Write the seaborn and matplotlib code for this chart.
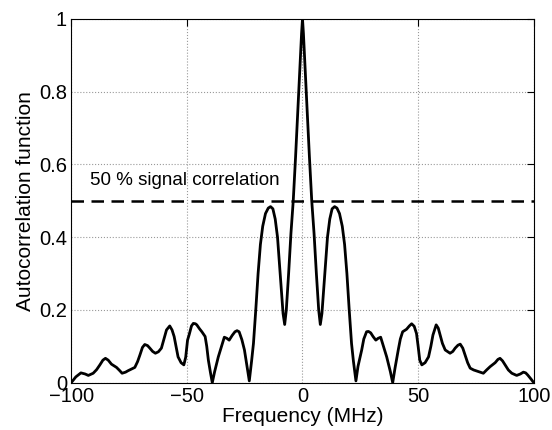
import numpy as np
import pandas as pd
import seaborn as sns
import matplotlib

matplotlib.use("Agg")
import matplotlib.pyplot as plt

# Frequency offset (MHz) and normalised autocorrelation
freq = [
    -100.0, -98.0, -95.8, -94.0, -92.6, -90.5, -89.0, -87.6, -86.3, -85.2,
    -84.0, -82.6, -80.4, -79.0, -78.0, -76.5, -75.4, -72.5, -71.3, -70.3,
    -69.2, -68.2, -67.0, -66.0, -64.8, -63.6, -62.3, -61.0, -59.8, -58.8,
    -57.4, -56.4, -55.5, -54.6, -53.8, -52.5, -51.3, -50.5, -49.7, -49.0,
    -48.0, -47.2, -46.3, -45.7, -44.5, -43.5, -42.1, -41.4, -40.7, -39.8,
    -39.0, -38.0, -36.4, -35.0, -33.8, -32.7, -31.7, -30.4, -29.2, -28.3,
    -27.4, -26.2, -25.1, -24.0, -23.0, -22.0, -21.2, -20.2, -19.2, -18.2,
    -17.2, -16.0, -14.8, -13.8, -12.8, -11.8, -10.8, -10.0, -9.2, -8.4,
    -7.7, -7.0, -6.0, -5.0, -4.0, -3.0, -2.0, -1.0, -0.4, 0.0,
    0.4, 1.0, 2.0, 3.0, 4.0, 5.0, 6.0, 7.0, 7.7, 8.4,
    9.2, 10.0, 10.8, 11.8, 12.8, 13.9, 14.9, 16.0, 17.2, 18.2,
    19.2, 20.2, 21.2, 22.0, 23.1, 24.0, 25.6, 26.5, 27.7, 28.5,
    29.5, 30.5, 31.7, 32.7, 33.8, 35.0, 36.4, 38.0, 39.0, 40.0,
    41.4, 42.3, 43.3, 45.0, 46.2, 47.2, 48.3, 49.3, 50.0, 50.7,
    51.6, 53.0, 54.5, 55.5, 56.4, 57.8, 58.7, 59.5, 60.5, 61.7,
    63.8, 65.0, 66.0, 67.2, 68.2, 69.3, 70.3, 71.4, 72.5, 74.0,
    75.4, 76.8, 78.2, 79.6, 81.1, 83.3, 84.5, 85.4, 86.5, 87.6,
    89.0, 90.5, 92.6, 94.2, 95.5, 96.5, 97.4, 98.8, 100.0,
]
acf = [
    0.0, 0.016, 0.027, 0.024, 0.020, 0.026, 0.036, 0.049, 0.062, 0.067,
    0.062, 0.051, 0.042, 0.033, 0.026, 0.029, 0.033, 0.042, 0.058, 0.076,
    0.097, 0.105, 0.102, 0.095, 0.086, 0.081, 0.085, 0.095, 0.122, 0.145,
    0.156, 0.145, 0.127, 0.098, 0.071, 0.055, 0.049, 0.070, 0.117, 0.132,
    0.156, 0.163, 0.162, 0.159, 0.148, 0.140, 0.127, 0.100, 0.062, 0.028,
    0.0, 0.030, 0.071, 0.100, 0.125, 0.122, 0.117, 0.130, 0.140, 0.143,
    0.140, 0.118, 0.090, 0.045, 0.005, 0.060, 0.108, 0.200, 0.300, 0.380,
    0.430, 0.465, 0.480, 0.484, 0.478, 0.450, 0.400, 0.330, 0.260, 0.190,
    0.160, 0.200, 0.300, 0.410, 0.500, 0.620, 0.750, 0.880, 0.960, 1.0,
    0.960, 0.880, 0.750, 0.620, 0.500, 0.410, 0.300, 0.200, 0.160, 0.190,
    0.260, 0.330, 0.400, 0.450, 0.478, 0.484, 0.480, 0.465, 0.430, 0.380,
    0.300, 0.200, 0.108, 0.060, 0.005, 0.045, 0.090, 0.120, 0.140, 0.141,
    0.137, 0.127, 0.117, 0.122, 0.125, 0.100, 0.071, 0.030, 0.0, 0.040,
    0.090, 0.120, 0.140, 0.147, 0.156, 0.162, 0.155, 0.135, 0.100, 0.062,
    0.049, 0.055, 0.071, 0.100, 0.131, 0.159, 0.150, 0.131, 0.108, 0.090,
    0.081, 0.086, 0.095, 0.103, 0.106, 0.095, 0.076, 0.055, 0.040, 0.035,
    0.032, 0.029, 0.026, 0.035, 0.044, 0.055, 0.064, 0.067, 0.060, 0.049,
    0.035, 0.026, 0.020, 0.024, 0.029, 0.027, 0.021, 0.010, 0.0,
]
threshold = 0.5
threshold_label = "50 % signal correlation"

x_ticks = [-100, -50, 0, 50, 100]
y_ticks = [0, 0.2, 0.4, 0.6, 0.8, 1]
y_ticklabels = ["0", "0.2", "0.4", "0.6", "0.8", "1"]

sns.set_theme(style="white")
plt.rcParams["font.family"] = ["Liberation Sans", "DejaVu Sans"]
plt.rcParams["text.color"] = "black"
plt.rcParams["axes.labelcolor"] = "black"

df = pd.DataFrame({"freq": freq, "acf": acf})

fig, ax = plt.subplots(figsize=(5.52, 4.30), dpi=100)
fig.subplots_adjust(left=0.129, right=0.967, top=0.956, bottom=0.11)

sns.lineplot(data=df, x="freq", y="acf", ax=ax, color="black",
             linewidth=2.0, sort=False, estimator=None)
ax.axhline(threshold, color="black", linestyle=(0, (5, 3)), linewidth=1.8)
ax.text(-92, threshold + 0.057, threshold_label, fontsize=13.5, va="center",
        color="black")

ax.set_xlim(-100, 100)
ax.set_ylim(0, 1)
ax.set_xticks(x_ticks)
ax.set_xticklabels([f"\u2212{abs(t)}" if t < 0 else str(t) for t in x_ticks])
ax.set_yticks(y_ticks)
ax.set_yticklabels(y_ticklabels)
ax.tick_params(direction="in", top=True, right=True, length=5, width=0.8,
               labelsize=14.5, colors="black", pad=3)
ax.grid(True, linestyle=":", color="0.6", linewidth=0.8)
for s in ax.spines.values():
    s.set_color("black")
    s.set_linewidth(0.8)

ax.set_xlabel("Frequency (MHz)", fontsize=15, labelpad=1)
ax.set_ylabel("Autocorrelation function", fontsize=15, labelpad=3)

fig.savefig("out.png", dpi=100)
